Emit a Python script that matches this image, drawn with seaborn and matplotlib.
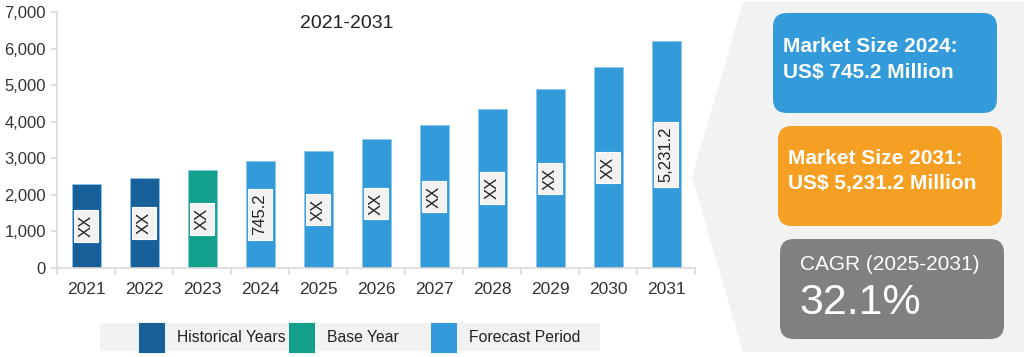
import matplotlib.pyplot as plt
import pandas as pd
import seaborn as sns
from matplotlib.patches import FancyBboxPatch, Polygon, Rectangle
from matplotlib.ticker import FuncFormatter, FixedLocator

years = ['2021', '2022', '2023', '2024', '2025', '2026', '2027', '2028', '2029', '2030', '2031']
values = [2300, 2470, 2680, 2920, 3200, 3530, 3915, 4360, 4890, 5500, 6220]
periods = ['Historical Years', 'Historical Years', 'Base Year'] + ['Forecast Period'] * 8
bar_labels = ['XX', 'XX', 'XX', '745.2', 'XX', 'XX', 'XX', 'XX', 'XX', 'XX', '5,231.2']

palette = {'Historical Years': '#17609A', 'Base Year': '#12A08A', 'Forecast Period': '#349BDB'}

df = pd.DataFrame({'year': years, 'value': values, 'period': periods})

sns.set_theme(style="white")
plt.rcParams['font.family'] = ['Liberation Sans', 'DejaVu Sans']

fig = plt.figure(figsize=(10.24, 3.57), dpi=100)
ax = fig.add_axes([57 / 1024, 1 - 268 / 357, (695 - 57) / 1024, (268 - 12) / 357])

sns.barplot(data=df, x='year', y='value', hue='period', dodge=False,
            palette=palette, saturation=1, width=0.5, legend=False, ax=ax,
            edgecolor='#8cc4ec', linewidth=0.6)

ax.set_ylim(0, 7000)
ax.set_xlim(-0.5, len(years) - 0.5)
ax.set_xlabel('')
ax.set_ylabel('')
ax.yaxis.set_major_formatter(FuncFormatter(lambda v, p: f'{int(v):,}'))
ax.set_yticks(range(0, 7001, 1000))

for s in ['top', 'right']:
    ax.spines[s].set_visible(False)
for s in ['left', 'bottom']:
    ax.spines[s].set_color('#d9d9d9')
    ax.spines[s].set_linewidth(1.2)

ax.tick_params(axis='y', left=True, length=4, color='#d9d9d9', labelsize=12, labelcolor='#333333', pad=4)
ax.tick_params(axis='x', which='major', length=0, labelsize=12.5, labelcolor='#333333', pad=10)
ax.xaxis.set_minor_locator(FixedLocator([i - 0.5 for i in range(len(years) + 1)]))
ax.tick_params(axis='x', which='minor', bottom=True, length=5, color='#d9d9d9', width=1.2)

# labels in the middle of each bar
for i, (v, lab) in enumerate(zip(values, bar_labels)):
    ax.text(i, v / 2, lab, rotation=90, ha='center', va='center', fontsize=12, color='#222222',
            bbox=dict(boxstyle='square,pad=0.28', facecolor='#f2f2f2', edgecolor='white', linewidth=0.8))

# overlay in pixel coordinates for the title, legend and right panel
ov = fig.add_axes([0, 0, 1, 1], facecolor='none')
ov.set_xlim(0, 1024)
ov.set_ylim(357, 0)
ov.axis('off')

ov.text(347, 24, '2021-2031', ha='center', va='center', fontsize=14, color='#222222')

# legend strip
ov.add_patch(Rectangle((100, 323), 500, 28, facecolor='#f2f2f2', edgecolor='none'))
legend_pos = [(138, 177), (288, 327), (430, 469)]
for (px, tx), (name, col) in zip(legend_pos, palette.items()):
    ov.add_patch(Rectangle((px, 322), 27, 31, facecolor=col, edgecolor='white', linewidth=0.6))
    ov.text(tx, 338, name, ha='left', va='center', fontsize=11.3, color='#222222')

# right side panel
ov.add_patch(Polygon([(743, 2), (1024, 2), (1024, 352), (743, 352), (692, 177)],
                     closed=True, facecolor='#f2f2f2', edgecolor='none'))

boxes = [
    (773, 13, 224, 100, '#349BDB'),
    (778, 126, 224, 100, '#F5A023'),
    (780, 239, 224, 100, '#808080'),
]
for x0, y0, w, h, c in boxes:
    ov.add_patch(FancyBboxPatch((x0 + 10, y0 + 10), w - 20, h - 20,
                                boxstyle='round,pad=10,rounding_size=14',
                                facecolor=c, edgecolor='none'))

ov.text(783, 46, 'Market Size 2024:', color='white', fontsize=15, fontweight='bold', va='center')
ov.text(783, 72, 'US$ 745.2 Million', color='white', fontsize=15, fontweight='bold', va='center')
ov.text(788, 158, 'Market Size 2031:', color='white', fontsize=15, fontweight='bold', va='center')
ov.text(788, 184, 'US$ 5,231.2 Million', color='white', fontsize=15, fontweight='bold', va='center')
ov.text(800, 264, 'CAGR (2025-2031)', color='white', fontsize=15, va='center')
ov.text(799, 303, '32.1%', color='white', fontsize=31, va='center')

fig.savefig('out.png', dpi=100)
